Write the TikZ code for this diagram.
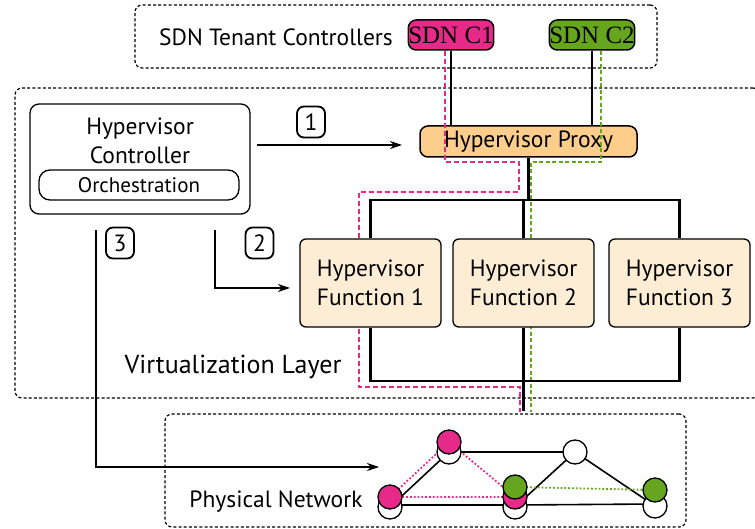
\documentclass[tikz,border=0pt]{standalone}
\usepackage{fontspec}
\setmainfont{PT Sans}
\newfontfamily\ctrlfont{Liberation Serif}
\usetikzlibrary{arrows.meta,backgrounds}

\definecolor{tenantpink}{RGB}{231,41,138}
\definecolor{tenantgreen}{RGB}{102,166,30}
\definecolor{proxyfill}{RGB}{253,205,140}
\definecolor{funcfill}{RGB}{253,237,213}

\tikzset{
  groupbox/.style={draw, line width=1.2pt, dash pattern=on 3pt off 2.2pt, rounded corners=7pt, inner sep=0pt},
  bigtext/.style={font=\fontsize{23.5}{28}\selectfont},
  ctrlbox/.style={draw, line width=1.5pt, rounded corners=8pt, inner sep=0pt, minimum height=30pt,
                  font=\ctrlfont\fontsize{25}{28}\selectfont},
  proxybox/.style={draw, line width=1.5pt, rounded corners=8pt, fill=proxyfill, minimum width=217pt,
                   minimum height=31pt, inner sep=0pt, bigtext},
  funcbox/.style={draw, line width=1.3pt, rounded corners=6pt, fill=funcfill, minimum width=141pt,
                  minimum height=88pt, align=center, bigtext},
  stepnum/.style={draw, line width=1.8pt, rounded corners=7pt, minimum width=28pt, minimum height=31pt,
                  inner sep=0pt, bigtext},
  bus/.style={line width=2.2pt},
  arrowline/.style={line width=1.3pt, -{Stealth[length=12pt,width=8pt]}},
  pinkpath/.style={tenantpink, line width=1.5pt, dash pattern=on 5pt off 3pt},
  greenpath/.style={tenantgreen, line width=1.6pt, dash pattern=on 4pt off 2.5pt},
  pnode/.style={circle, draw, line width=1.3pt, minimum size=24pt, inner sep=0pt},
  physedge/.style={line width=1.6pt},
  pinklink/.style={tenantpink, line width=1.8pt, dotted},
  greenlink/.style={tenantgreen, line width=1.8pt, dotted},
}

\begin{document}
\begin{tikzpicture}[x=1pt,y=-1pt]
\useasboundingbox (0,0) rectangle (755,529);

% --- group frames ---
\node[groupbox, minimum width=522pt, minimum height=63pt] (tenants) at (396,36.5) {};
\node[groupbox, minimum width=745pt, minimum height=310pt] (virt) at (387.5,243) {};
\node[groupbox, minimum width=521pt, minimum height=113pt] (phys) at (425.5,470.5) {};

\node[bigtext] (tenantlbl) at (276,37) {SDN Tenant Controllers};
\node[font=\fontsize{26}{30}\selectfont] (virtlbl) at (233,367) {Virtualization Layer};
\node[bigtext] (physlbl) at (276,502) {Physical Network};

% --- tenant controllers and proxy ---
\node[ctrlbox, fill=tenantpink, minimum width=84pt] (c1) at (451,35) {SDN C1};
\node[ctrlbox, fill=tenantgreen, minimum width=74pt] (c2) at (592,35) {SDN C2};
\node[proxybox] (proxy) at (528.5,141.5) {Hypervisor Proxy};

\draw[bus] (c1.south) -- (c1.south |- proxy.north);
\draw[bus] (c2.south) -- (c2.south |- proxy.north);

% tenant slices through the virtualization layer
\draw[pinkpath] ([xshift=-6pt]c1.south) |- (519,162) |- (359,192) |- (520,387) -- (520,412);
\draw[greenpath] ([xshift=9pt]c2.south) |- (531,162) -- (531,412);

% --- hypervisor functions ---
\node[funcbox] (f1) at (370.5,283) {Hypervisor\\[1pt]Function 1};
\node[funcbox] (f2) at (523.5,283) {Hypervisor\\[1pt]Function 2};
\node[funcbox] (f3) at (679.5,283) {Hypervisor\\[1pt]Function 3};

\draw[bus] (proxy.south) -- (proxy.south |- 0,201);
\draw[bus] (f1.north) -- ++(0,-38) -| (f3.north);
\draw[bus] (f2.north) -- ++(0,-38);
\draw[bus] (f1.south) -- ++(0,53) -| (f3.south);
\draw[bus] (f2.south) -- (f2.south |- 0,411);

% --- hypervisor controller ---
\node[draw, line width=1.3pt, rounded corners=9pt, minimum width=220pt, minimum height=110pt] (hc) at (140,159) {};
\node[bigtext, align=center] (hctext) at (140,141) {Hypervisor\\[1pt]Controller};
\node[draw, line width=1.3pt, rounded corners=11pt, minimum width=200pt, minimum height=30pt, inner sep=0pt,
      font=\fontsize{21}{24}\selectfont] (orch) at (139,185) {Orchestration};

\coordinate (a1s) at (257,145);
\coordinate (a2s) at (215,230);
\coordinate (a3s) at (96,230);
\coordinate (a1e) at (402,145);
\coordinate (a2e) at (290,288);
\coordinate (a3e) at (379,467);
\draw[arrowline] (a1s) -- (a1e);
\draw[arrowline] (a2s) |- (a2e);
\draw[arrowline] (a3s) |- (a3e);

\node[stepnum] (s1) at (311,122) {1};
\node[stepnum] (s2) at (259.5,243) {2};
\node[stepnum] (s3) at (120,243) {3};

% --- physical network ---
\node[pnode, fill=white] (aw) at (390,507) {};
\node[pnode, fill=white] (bw) at (449,452) {};
\node[pnode, fill=white] (cw) at (515,507) {};
\node[pnode, fill=white] (dw) at (575,452) {};
\node[pnode, fill=white] (ew) at (655,506) {};
\node[pnode, fill=tenantpink] (ap) at (390,497) {};
\node[pnode, fill=tenantpink] (bp) at (449,442) {};
\node[pnode, fill=tenantpink] (cp) at (515,497) {};
\node[pnode, fill=tenantgreen] (cg) at (515,487) {};
\node[pnode, fill=tenantgreen] (eg) at (655,490) {};

\begin{scope}[on background layer]
  \draw[physedge] (aw.center) -- (bw.center) -- (dw.center) -- (cw.center);
  \draw[physedge] (dw.center) -- (ew.center);
  \draw[physedge] ([yshift=2pt]aw.center) -- ([yshift=2pt]cw.center) -- ([yshift=2pt]ew.center);
  \draw[pinklink] (ap.center) -- (bp.center) -- (cp.center) -- (ap.center);
  \draw[greenlink] (cg.center) -- (eg.center);
\end{scope}
\end{tikzpicture}
\end{document}
